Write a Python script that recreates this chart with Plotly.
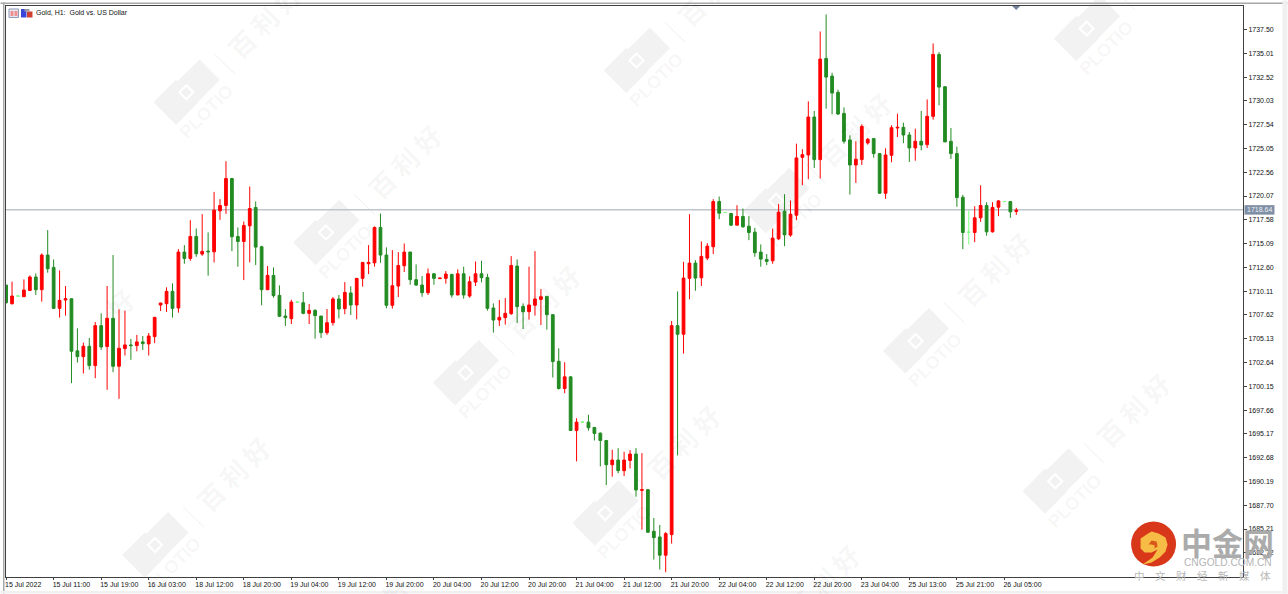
import plotly.graph_objects as go

# Chart data (USD per ounce): one entry per hourly bar
opens = [1710.75,1708.80,1709.60,1709.53,1710.19,1711.59,1710.26,1713.89,1712.60,1708.31,1709.18,1709.32,1703.86,1703.26,1704.34,1702.32,1706.50,1704.31,1707.27,1702.25,
1704.10,1704.48,1704.41,1704.80,1704.59,1705.35,1708.66,1708.80,1710.09,1708.35,1714.20,1713.54,1715.84,1713.99,1714.30,1714.23,1718.52,1719.08,1721.90,1715.84,
1715.31,1716.95,1718.87,1714.76,1710.26,1711.76,1709.67,1707.51,1707.23,1708.97,1708.90,1707.79,1708.10,1707.51,1705.77,1706.81,1709.29,1708.28,1709.92,1708.66,
1711.45,1712.98,1713.08,1716.78,1713.89,1708.63,1710.65,1712.77,1714.20,1711.31,1710.75,1709.95,1711.93,1711.42,1711.45,1711.86,1709.71,1711.93,1709.60,1711.06,
1711.93,1711.55,1708.35,1707.09,1707.34,1707.76,1712.74,1708.52,1707.96,1708.63,1709.25,1709.57,1707.65,1702.77,1699.92,1701.14,1695.53,1696.40,1696.40,1695.84,
1695.25,1694.48,1691.94,1692.43,1691.32,1692.39,1693.06,1689.26,1689.33,1684.98,1684.38,1682.47,1684.63,1706.50,1705.60,1711.45,1713.05,1711.51,1713.57,1714.76,
1719.49,1718.34,1718.24,1717.02,1717.93,1716.91,1716.29,1714.20,1713.43,1713.29,1715.59,1718.48,1715.98,1718.06,1724.12,1724.37,1728.34,1723.88,1734.47,1732.62,
1730.92,1728.72,1725.94,1723.32,1723.88,1725.62,1726.08,1724.51,1720.36,1724.33,1727.19,1727.26,1726.46,1725.10,1725.80,1725.45,1728.41,1734.89,1731.51,1725.80,
1724.51,1719.94,1716.29,1716.25,1717.79,1719.08,1716.32,1718.90,1719.49,1719.49,1718.45]
highs = [1710.75,1711.10,1709.65,1711.34,1711.76,1711.97,1714.06,1716.50,1713.43,1712.28,1710.65,1709.32,1706.22,1704.72,1705.21,1706.88,1707.79,1710.65,1713.89,1708.21,
1708.07,1705.11,1705.53,1705.42,1705.73,1707.41,1708.90,1710.51,1710.93,1714.51,1714.93,1717.54,1716.67,1718.17,1716.26,1720.50,1719.74,1723.71,1721.97,1716.78,
1717.40,1721.06,1719.49,1714.86,1712.74,1712.60,1710.72,1708.24,1709.22,1709.02,1710.02,1708.76,1708.21,1707.51,1708.24,1709.50,1709.71,1711.06,1710.61,1711.48,
1713.15,1714.93,1716.88,1718.24,1714.69,1714.41,1714.20,1715.10,1714.23,1712.91,1711.69,1712.49,1711.96,1711.48,1712.21,1711.93,1712.39,1712.67,1711.66,1713.22,
1713.29,1711.93,1708.83,1709.18,1709.39,1713.78,1713.43,1708.83,1712.67,1714.30,1710.33,1709.60,1707.72,1704.13,1702.67,1701.21,1696.81,1696.45,1697.17,1695.91,
1695.32,1694.52,1693.51,1693.68,1693.30,1693.47,1693.68,1693.16,1689.37,1686.37,1685.64,1684.90,1706.99,1710.09,1713.18,1718.17,1713.36,1715.32,1715.14,1719.74,
1720.02,1718.39,1718.31,1719.11,1718.76,1717.96,1716.74,1715.00,1714.00,1716.67,1719.25,1720.26,1719.60,1725.55,1724.97,1729.98,1728.97,1737.29,1739.07,1732.97,
1731.20,1729.35,1726.42,1725.80,1727.57,1726.15,1726.11,1724.54,1725.06,1727.47,1728.69,1727.75,1726.77,1727.12,1728.97,1730.18,1736.04,1735.13,1731.54,1727.19,
1725.24,1720.19,1718.59,1719.00,1721.20,1719.42,1719.42,1719.63,1719.54,1719.53,1718.83]
lows = [1708.83,1708.70,1709.55,1709.53,1710.12,1709.71,1709.01,1712.04,1708.24,1707.34,1707.55,1700.48,1702.64,1701.49,1701.90,1701.00,1703.96,1699.78,1701.63,1698.84,
1703.37,1702.92,1703.82,1703.96,1703.37,1704.66,1708.03,1707.93,1707.34,1707.86,1712.98,1713.29,1713.71,1713.82,1711.73,1713.12,1717.58,1718.20,1714.30,1712.67,
1711.27,1713.12,1712.84,1708.63,1710.23,1709.43,1707.41,1706.47,1706.67,1708.92,1707.69,1706.67,1705.14,1705.21,1705.53,1706.50,1707.27,1707.69,1707.62,1707.16,
1710.58,1711.90,1712.67,1713.08,1708.31,1708.28,1709.50,1712.11,1710.78,1710.65,1709.53,1709.71,1710.78,1711.42,1710.89,1709.43,1709.71,1709.32,1709.43,1710.65,
1711.03,1708.07,1705.77,1706.47,1706.61,1707.62,1706.78,1706.15,1707.13,1707.55,1706.57,1706.08,1701.07,1699.81,1699.43,1695.50,1692.29,1696.35,1695.50,1694.48,
1691.77,1689.82,1690.69,1691.04,1690.76,1691.56,1688.60,1685.15,1684.87,1682.01,1680.97,1680.69,1683.69,1692.91,1703.57,1709.26,1710.15,1710.65,1713.36,1713.99,
1717.65,1718.29,1716.92,1717.02,1716.74,1715.45,1713.71,1712.67,1712.84,1712.98,1715.45,1714.82,1715.80,1717.54,1721.20,1721.83,1723.01,1721.90,1729.21,1728.62,
1728.55,1725.55,1720.22,1721.44,1723.32,1725.45,1724.09,1720.29,1719.77,1723.60,1726.25,1725.59,1723.64,1723.77,1724.86,1725.10,1728.06,1729.56,1725.73,1723.95,
1718.94,1714.51,1715.00,1715.24,1717.37,1715.91,1716.25,1717.96,1719.44,1717.79,1718.10]
closes = [1708.90,1709.60,1709.60,1710.23,1711.59,1710.26,1713.89,1712.46,1708.31,1709.15,1709.32,1703.82,1703.26,1704.34,1702.32,1706.50,1704.27,1707.27,1702.25,1704.13,
1704.48,1704.41,1704.80,1704.62,1705.42,1707.37,1708.87,1710.09,1708.31,1714.20,1713.54,1715.84,1714.02,1714.27,1714.23,1718.59,1719.08,1721.90,1715.80,1715.31,
1716.99,1718.76,1714.72,1710.26,1711.76,1709.64,1707.48,1707.34,1708.97,1708.97,1707.79,1708.10,1707.55,1705.77,1706.81,1709.29,1708.24,1709.98,1708.66,1711.45,
1713.12,1713.12,1716.78,1713.89,1708.63,1710.68,1712.80,1714.20,1711.31,1710.75,1709.95,1711.93,1711.45,1711.48,1711.90,1709.71,1711.93,1709.71,1711.10,1711.93,
1711.52,1708.31,1707.09,1707.37,1707.79,1712.80,1708.49,1707.96,1708.66,1709.29,1709.53,1707.65,1702.74,1699.92,1701.14,1695.53,1696.40,1696.40,1695.81,1695.22,
1694.48,1691.94,1692.43,1691.32,1692.43,1693.06,1689.30,1689.33,1684.87,1684.31,1682.47,1684.73,1706.50,1705.60,1711.48,1713.05,1711.48,1713.75,1714.82,1719.49,
1718.27,1718.34,1717.02,1717.93,1716.85,1716.25,1714.13,1713.47,1713.22,1715.66,1718.38,1716.01,1718.17,1724.06,1724.40,1728.34,1723.88,1734.40,1732.52,1730.85,
1728.65,1725.80,1723.32,1723.92,1727.36,1726.01,1724.51,1720.36,1724.37,1727.22,1727.26,1726.46,1725.10,1725.80,1725.41,1728.41,1734.89,1731.47,1725.73,1724.51,
1719.91,1716.25,1716.29,1717.79,1719.08,1716.32,1718.87,1719.56,1719.49,1718.41,1718.59]
current_price = 1718.64
y_ticks = [1737.50,1735.01,1732.52,1730.03,1727.54,1725.05,1722.56,1720.07,1717.58,1715.09,1712.60,1710.11,1707.62,1705.13,1702.64,1700.15,1697.66,1695.17,1692.68,1690.19,1687.70,1685.21,1682.72]
x_tick_labels = ["15 Jul 2022","15 Jul 11:00","15 Jul 19:00","16 Jul 03:00","18 Jul 12:00","18 Jul 20:00","19 Jul 04:00","19 Jul 12:00","19 Jul 20:00","20 Jul 04:00","20 Jul 12:00","20 Jul 20:00","21 Jul 04:00","21 Jul 12:00","21 Jul 20:00","22 Jul 04:00","22 Jul 12:00","22 Jul 20:00","23 Jul 04:00","25 Jul 13:00","25 Jul 21:00","26 Jul 05:00"]
title_text = "Gold, H1:  Gold vs. US Dollar"

W, H = 1288, 594
L, R, T, B = 5.5, 1243.5, 5.5, 577.5
px = lambda X: (X - L) / (R - L)
py = lambda Y: 1 - (Y - T) / (B - T)
RED, GREEN, DOJI = "#ff0000", "#228b22", "#7dff7d"

def subset(kind):
    idx = []
    for i in range(len(opens)):
        k = "doji" if opens[i] == closes[i] else ("up" if closes[i] > opens[i] else "down")
        if k == kind:
            idx.append(i)
    return idx

def candle(idx, color):
    side = dict(line=dict(color=color, width=1), fillcolor=color)
    return go.Candlestick(x=idx, open=[opens[i] for i in idx], high=[highs[i] for i in idx],
                          low=[lows[i] for i in idx], close=[closes[i] for i in idx],
                          increasing=side, decreasing=side, showlegend=False, hoverinfo="skip")

fig = go.Figure([candle(subset("up"), RED), candle(subset("down"), GREEN), candle(subset("doji"), DOJI)])

shapes, annos = [], []

def poly(points, color, layer="below", line=None):
    path = "M" + " L".join(f"{px(x):.5f},{py(y):.5f}" for x, y in points) + " Z"
    shapes.append(dict(type="path", xref="paper", yref="paper", path=path, fillcolor=color,
                       line=dict(width=0) if line is None else line, layer=layer))

def rect(x0, y0, x1, y1, color, layer="above", line=None):
    shapes.append(dict(type="rect", xref="paper", yref="paper", x0=px(x0), x1=px(x1), y0=py(y0), y1=py(y1),
                       fillcolor=color, line=dict(width=0) if line is None else line, layer=layer))

def text(s, x, y, size, color, family="Liberation Sans", angle=0, xanchor="center", bold=False):
    annos.append(dict(text=f"<b>{s}</b>" if bold else s, x=px(x), y=py(y), xref="paper", yref="paper",
                      showarrow=False, xanchor=xanchor, yanchor="middle", textangle=angle,
                      font=dict(size=size, color=color, family=family)))

# Watermark lattice
WM = "#f2f2f2"
WM_TEXT = "rgba(0,0,0,0.055)"
def diamond(cx, cy, r, color):
    poly([(cx, cy - r), (cx + r, cy), (cx, cy + r), (cx - r, cy)], color)

def watermark(cx, cy):
    poly([(cx - 12, cy - 8), (cx + 13.3, cy - 33), (cx + 33.5, cy - 12.3), (cx + 8.5, cy + 12.7)], WM)
    poly([(cx - 32.7, cy + 10), (cx - 10.3, cy - 12.7), (cx + 12, cy + 10), (cx - 10.3, cy + 32.7)], WM)
    diamond(cx, cy, 8.5, "#ffffff")
    diamond(cx, cy, 5.5, WM)
    shapes.append(dict(type="line", xref="paper", yref="paper", x0=px(cx + 28.3), y0=py(cy - 38.3),
                       x1=px(cx + 49), y1=py(cy - 18), line=dict(color="#efefef", width=1), layer="below"))
    text("PLOTIO", cx + 19.7, cy + 19.4, 18, WM_TEXT, angle=-45, bold=True)
    text("百 利 好", cx + 78, cy - 71.7, 26, WM_TEXT, family="Noto Sans CJK SC", angle=-45, bold=True)

skip = {(2, -1), (1, 2), (4, 1)}
for k in range(-4, 7):
    for m in range(-2, 4):
        cx = 186 + 139.7 * k + 450.5 * m
        cy = 92 + 140.5 * k - 32 * m
        if -110 < cx < W + 60 and -60 < cy < H + 110 and (k, m) not in skip:
            watermark(cx, cy)
text("好", 120, 303, 26, WM_TEXT, family="Noto Sans CJK SC", angle=-45, bold=True)

# Window frame
rect(0, 2, W, 3.5, "#a8a8a8", layer="below")
rect(2.5, 2, 4, H, "#a8a8a8", layer="below")
rect(1283, 0, W, H, "#f0f0f0", layer="below")
rect(0, 591.5, W, H, "#f0f0f0", layer="below")

# Current-price line and tag
rect(1245, 205, 1275, 214.5, "#7f8fa6")
text("%.2f" % current_price, 1260, 209.8, 7, "#eef0f4")

# Chart-shift marker
poly([(1012.5, 5.5), (1020.5, 5.5), (1016.5, 9.5)], "#6f8299", layer="above")

# Top-left icons and title
rect(8.5, 8.5, 18, 17, "#e8e8f0", line=dict(color="#8e9ab8", width=1))
rect(10, 10.5, 13, 15.5, "#f08f8f")
rect(14, 10.5, 17, 15.5, "#f08f8f")
rect(20.5, 8.5, 26, 17, "#3a46d8")
rect(26.5, 11, 32, 17, "#d04030")
rect(24, 8.5, 29, 11, "#9a9aa8")
text(title_text, 34, 12.5, 7, "#111111", xanchor="left")

# Brand block, bottom right
shapes.append(dict(type="circle", xref="paper", yref="paper", x0=px(1131.5), x1=px(1176.5), y0=py(522), y1=py(567),
                   fillcolor="#d8371a", line=dict(width=0), layer="above"))
gold = "#f7bc45"
poly([(1141, 549), (1141, 539), (1147, 535), (1152, 532), (1159, 534), (1166, 538), (1168, 545), (1166, 552),
      (1160, 558), (1152, 563), (1143, 565), (1153, 558), (1158, 550), (1152, 553), (1145, 553)], gold, layer="above")
poly([(1149, 545), (1152, 541), (1157, 542), (1158, 547), (1155, 549), (1155, 546), (1152, 545)], "#d8571a", layer="above")
text("中金网", 1228, 541.5, 31, "#ababab", family="Noto Sans CJK SC", bold=True)
text("CNGOLD.COM.CN", 1228, 563, 10.2, "#b5b5b5")
text("中　文　财　经　新　媒　体", 1203, 576, 10.5, "#b8b8b8", family="Noto Sans CJK SC")

fig.update_layout(
    width=W, height=H, autosize=False, paper_bgcolor="#ffffff", plot_bgcolor="rgba(0,0,0,0)",
    margin=dict(l=L, r=W - R, t=T, b=H - B, pad=0, autoexpand=False),
    showlegend=False, boxgap=0.34, shapes=shapes, annotations=annos,
    font=dict(family="Liberation Sans", size=7, color="#111111"),
)
fig.add_shape(type="line", xref="paper", x0=0, x1=1, yref="y", y0=current_price, y1=current_price,
              line=dict(color="#c0c4cc", width=1.5), layer="below")
fig.update_xaxes(range=[-0.017, 208.15], rangeslider_visible=False, showgrid=False, zeroline=False,
                 tickmode="array", tickvals=[8 * i for i in range(len(x_tick_labels))], ticktext=x_tick_labels,
                 ticks="outside", ticklen=2, tickcolor="#404040", tickwidth=1, tickangle=0,
                 ticklabelposition="outside right", ticklabelshift=-2, ticklabelstandoff=1,
                 tickfont=dict(size=7, color="#111111"),
                 showline=True, linecolor="#404040", linewidth=1, mirror=True)
fig.update_yaxes(range=[1680.19, 1739.96], side="right", showgrid=False, zeroline=False,
                 tickmode="array", tickvals=y_ticks, tickformat=".2f",
                 ticks="outside", ticklen=3, tickcolor="#404040", tickwidth=1,
                 tickfont=dict(size=7, color="#111111"),
                 showline=True, linecolor="#404040", linewidth=1, mirror=True)

fig.write_html("out.html", config={"displayModeBar": False},
               post_script="document.body.style.margin='0';document.body.style.overflow='hidden';")
